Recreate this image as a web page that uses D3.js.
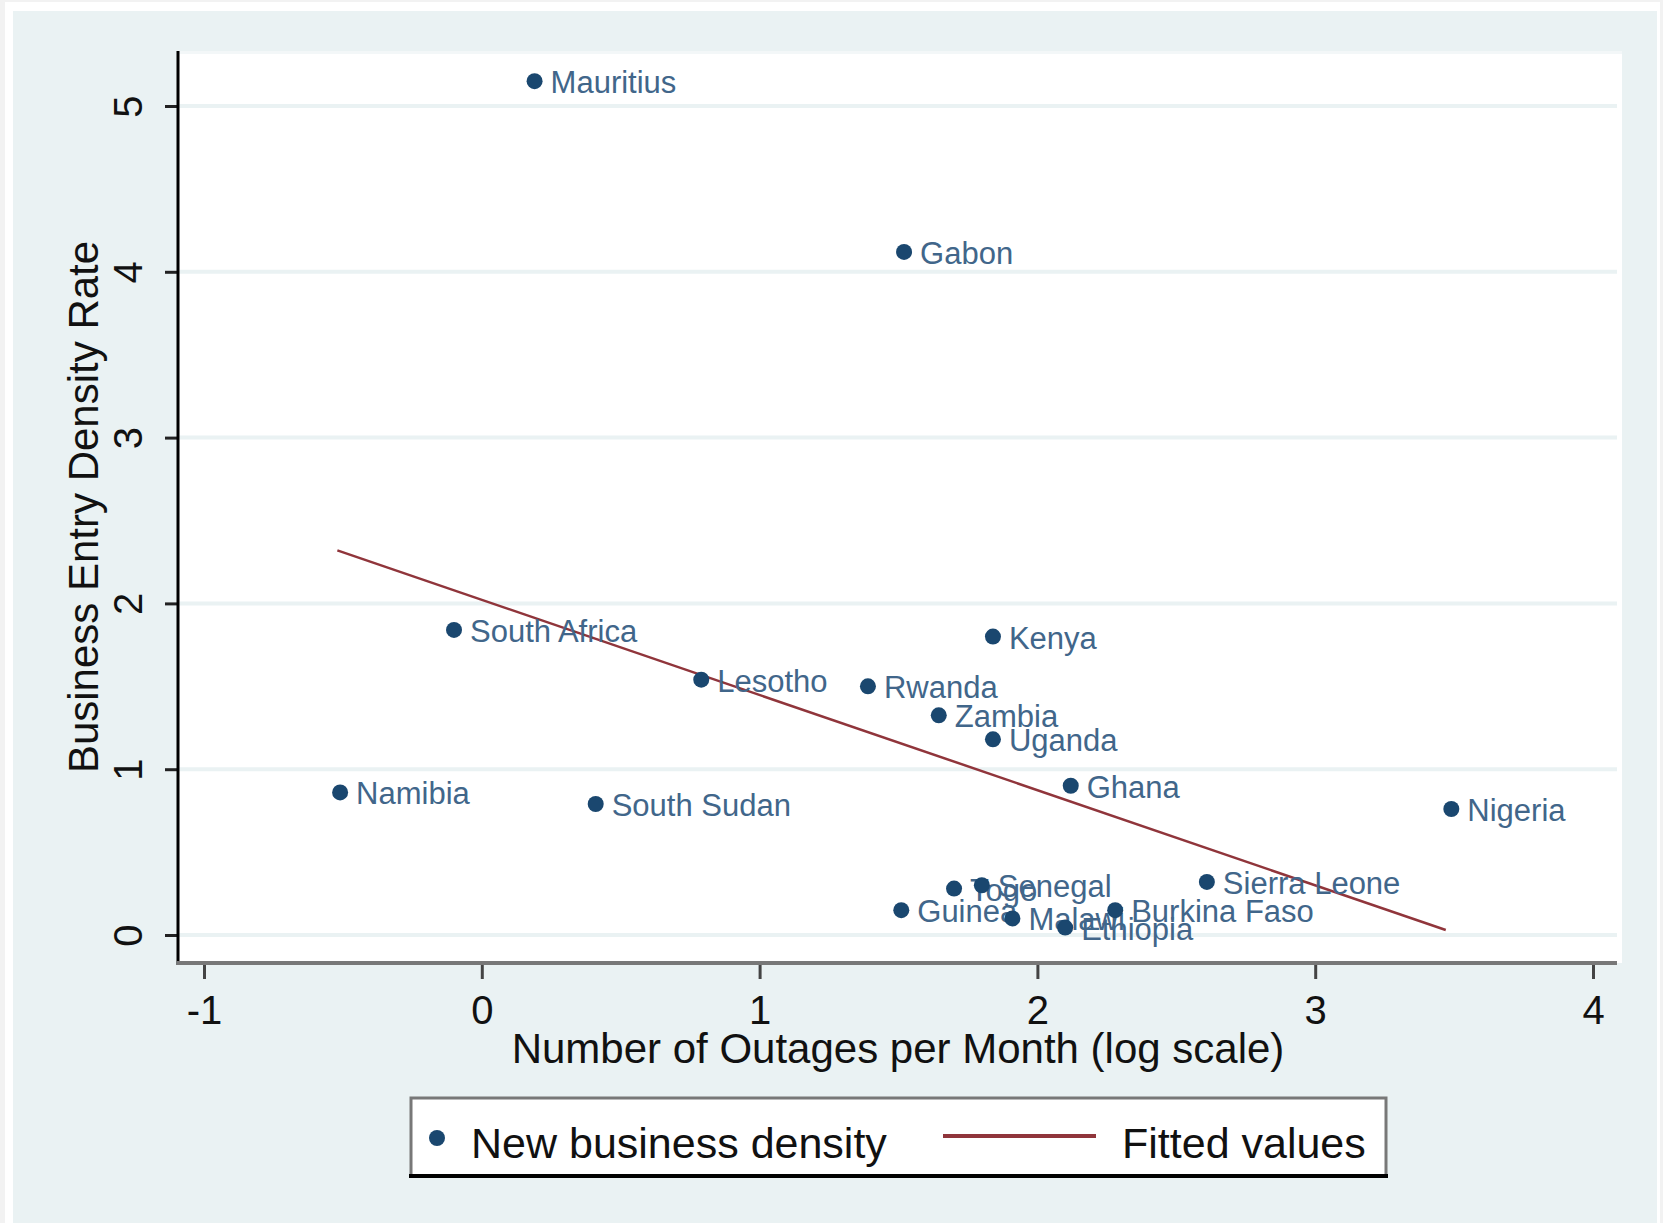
<!DOCTYPE html>
<html>
<head>
<meta charset="utf-8">
<script src="https://cdn.jsdelivr.net/npm/d3@7"></script>
<style>
  html, body { margin: 0; padding: 0; background: #fff; }
  svg { display: block; font-family: "Liberation Sans", Arial, sans-serif; }
</style>
</head>
<body>
<svg id="chart" width="1663" height="1223"></svg>
<script>
// values (x is log of outages per month)
const countries = ["Mauritius", "Gabon", "South Africa", "Kenya", "Lesotho", "Rwanda", "Zambia", "Uganda",
  "Ghana", "Namibia", "South Sudan", "Nigeria", "Sierra Leone", "Togo", "Senegal", "Guinea",
  "Malawi", "Burkina Faso", "Ethiopia"];
const logOutages = [0.19, 1.52, -0.10, 1.84, 0.79, 1.39, 1.645, 1.84,
  2.12, -0.51, 0.41, 3.49, 2.61, 1.70, 1.80, 1.51,
  1.91, 2.28, 2.10];
const entryDensity = [5.15, 4.12, 1.84, 1.80, 1.54, 1.50, 1.325, 1.18,
  0.90, 0.86, 0.79, 0.76, 0.32, 0.28, 0.30, 0.15,
  0.10, 0.15, 0.045];

// fitted line end points
const fitX = [-0.52, 3.47];
const fitY = [2.32, 0.03];

const xTicks = [-1, 0, 1, 2, 3, 4];
const yTicks = [0, 1, 2, 3, 4, 5];

const navy = "#1a476f";
const maroon = "#90353b";

const svg = d3.select("#chart");

// frame + background
svg.append("rect").attr("width", 1663).attr("height", 1223).attr("fill", "#f2f2f2");
svg.append("rect").attr("x", 5).attr("y", 2).attr("width", 1655).attr("height", 1221).attr("fill", "#fff");
svg.append("rect").attr("x", 13).attr("y", 11).attr("width", 1644).attr("height", 1212).attr("fill", "#eaf2f3");

const plot = { left: 178, right: 1622, top: 51, bottom: 963 };
svg.append("rect")
  .attr("x", plot.left).attr("y", plot.top)
  .attr("width", plot.right - plot.left).attr("height", plot.bottom - plot.top)
  .attr("fill", "#fff");
svg.append("rect")
  .attr("x", plot.left).attr("y", plot.top)
  .attr("width", plot.right - plot.left).attr("height", 3)
  .attr("fill", "#f3f7f8");

const x = d3.scaleLinear().domain([-1, 4]).range([204, 1593]);
const y = d3.scaleLinear().domain([0, 5]).range([935, 106]);

// grid
svg.append("g")
  .selectAll("line")
  .data(yTicks)
  .join("line")
  .attr("x1", plot.left).attr("x2", 1617)
  .attr("y1", d => y(d)).attr("y2", d => y(d))
  .attr("stroke", "#eaf2f3")
  .attr("stroke-width", 4);

// y axis
const yAxis = svg.append("g")
  .attr("transform", `translate(${plot.left},0)`)
  .call(d3.axisLeft(y).tickValues(yTicks).tickSize(13).tickPadding(0).tickFormat(d3.format("d")));
yAxis.select(".domain").remove();
yAxis.selectAll(".tick line").attr("stroke", "#222").attr("stroke-width", 3);
yAxis.selectAll(".tick text")
  .attr("font-size", 40)
  .attr("fill", "#111")
  .attr("text-anchor", "middle")
  .attr("dy", null)
  .attr("x", null)
  .attr("transform", "translate(-36,0) rotate(-90)");
svg.append("line")
  .attr("x1", plot.left).attr("x2", plot.left)
  .attr("y1", plot.top).attr("y2", plot.bottom + 2)
  .attr("stroke", "#000").attr("stroke-width", 3);

// x axis
const xAxis = svg.append("g")
  .attr("transform", `translate(0,${plot.bottom})`)
  .call(d3.axisBottom(x).tickValues(xTicks).tickSize(16).tickPadding(17).tickFormat(d3.format("d")));
xAxis.select(".domain").remove();
xAxis.selectAll(".tick line").attr("stroke", "#444").attr("stroke-width", 3);
xAxis.selectAll(".tick text").attr("font-size", 40).attr("fill", "#111").attr("dy", "0.71em");
xAxis.selectAll(".tick text").text(d => d < 0 ? "-" + Math.abs(d) : d);
svg.append("line")
  .attr("x1", plot.left - 1).attr("x2", plot.right - 5)
  .attr("y1", plot.bottom).attr("y2", plot.bottom)
  .attr("stroke", "#787878").attr("stroke-width", 4);

// axis titles
svg.append("text")
  .attr("x", 898).attr("y", 1063)
  .attr("text-anchor", "middle")
  .attr("font-size", 42)
  .attr("fill", "#111")
  .text("Number of Outages per Month (log scale)");
svg.append("text")
  .attr("transform", `translate(98,${(plot.top + plot.bottom) / 2}) rotate(-90)`)
  .attr("text-anchor", "middle")
  .attr("font-size", 42)
  .attr("fill", "#111")
  .text("Business Entry Density Rate");

// fitted line
const fitData = fitX.map((v, i) => [v, fitY[i]]);
svg.append("path")
  .datum(fitData)
  .attr("d", d3.line().x(d => x(d[0])).y(d => y(d[1])))
  .attr("fill", "none")
  .attr("stroke", maroon)
  .attr("stroke-width", 2.5);

// points + labels
const pts = countries.map((c, i) => ({ name: c, x: logOutages[i], y: entryDensity[i] }));
const pg = svg.append("g");
pg.selectAll("text")
  .data(pts)
  .join("text")
  .attr("x", d => x(d.x) + 16)
  .attr("y", d => y(d.y) + 12)
  .attr("font-size", 31)
  .attr("fill", "#41668a")
  .text(d => d.name);
pg.selectAll("circle")
  .data(pts)
  .join("circle")
  .attr("cx", d => x(d.x))
  .attr("cy", d => y(d.y))
  .attr("r", 8)
  .attr("fill", navy);

// legend
const lg = svg.append("g");
lg.append("rect")
  .attr("x", 411).attr("y", 1098).attr("width", 975).attr("height", 78)
  .attr("fill", "#fff").attr("stroke", "#787878").attr("stroke-width", 3);
lg.append("line")
  .attr("x1", 409).attr("x2", 1388).attr("y1", 1176).attr("y2", 1176)
  .attr("stroke", "#000").attr("stroke-width", 4);
lg.append("circle").attr("cx", 437).attr("cy", 1138).attr("r", 8).attr("fill", navy);
lg.append("text").attr("x", 471).attr("y", 1158).attr("font-size", 43).attr("fill", "#111")
  .text("New business density");
lg.append("line").attr("x1", 943).attr("x2", 1096).attr("y1", 1136).attr("y2", 1136)
  .attr("stroke", maroon).attr("stroke-width", 4);
lg.append("text").attr("x", 1122).attr("y", 1158).attr("font-size", 43).attr("fill", "#111")
  .text("Fitted values");
</script>
</body>
</html>
